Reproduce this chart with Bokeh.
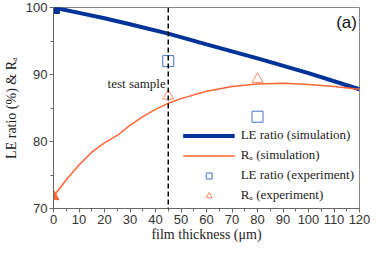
from bokeh.plotting import figure
from bokeh.models import Range1d, Span, Label, Legend, LegendItem, FixedTicker
from bokeh.embed import file_html
from bokeh.resources import INLINE

# simulation curves
sim_x = [0, 10, 20, 30, 45, 60, 80, 100, 120]
le_sim = [100, 99.2, 98.4, 97.5, 96.1, 94.5, 92.4, 90.2, 87.8]
ra_x = [0, 5, 10, 15, 20, 25, 30, 35, 40, 45, 50, 60, 70, 80, 90, 100, 110, 120]
ra_sim = [71.8, 74.3, 76.5, 78.4, 79.8, 80.9, 82.4, 83.7, 84.8, 85.7, 86.4, 87.5, 88.2, 88.6, 88.7, 88.5, 88.2, 87.8]
# experiments
exp_x = [45, 80]
le_exp = [92.0, 83.7]
ra_exp = [86.8, 89.3]
test_x = 45

p = figure(width=370, height=244, output_backend="svg", toolbar_location=None,
           x_range=Range1d(0, 120), y_range=Range1d(70, 100),
           min_border_left=40, min_border_right=11, min_border_top=7, min_border_bottom=0)
p.outline_line_color = "#888888"
p.grid.visible = False
p.background_fill_color = "white"

serif = "Liberation Serif"
sans = "Liberation Sans"

p.xaxis.ticker = FixedTicker(ticks=list(range(0, 121, 10)), minor_ticks=list(range(0, 121, 5)))
p.yaxis.ticker = FixedTicker(ticks=[70, 80, 90, 100], minor_ticks=list(range(70, 101, 5)))
for ax in (p.xaxis, p.yaxis):
    ax.axis_line_color = "#666666"
    ax.major_tick_line_color = "#666666"
    ax.minor_tick_line_color = "#666666"
    ax.major_tick_out = 4
    ax.major_tick_in = 0
    ax.minor_tick_out = 3
    ax.minor_tick_in = 0
    ax.major_label_text_font = sans
    ax.major_label_text_font_size = "13px"
    ax.major_label_text_color = "#333333"
    ax.axis_label_text_font = serif
    ax.axis_label_text_font_size = "14px"
    ax.axis_label_text_font_style = "normal"
    ax.axis_label_text_color = "#222222"
p.xaxis.axis_label = "film thickness (\u03bcm)"
p.yaxis.axis_label = "LE ratio (%) & R\u2090"
p.xaxis.major_label_standoff = 2
p.xaxis.axis_label_standoff = 0
p.yaxis.major_label_standoff = 2
p.yaxis.axis_label_standoff = 4

dash = Span(location=test_x, dimension="height", line_color="black", line_dash="5 3", line_width=1.5)
p.add_layout(dash)

r1 = p.line(sim_x, le_sim, line_color="#003399", line_width=4)
r2 = p.line(ra_x, ra_sim, line_color="#FF6633", line_width=1.5)
r3 = p.scatter(exp_x, le_exp, marker="square", size=11, fill_color=None, line_color="#4472C4", line_width=1)
r4 = p.scatter(exp_x, ra_exp, marker="triangle", size=11, fill_color=None, line_color="#FF8866", line_width=1)
p.scatter([sim_x[0]], [le_sim[0]], marker="square", size=12, fill_color="#003399", line_color="#003399")
p.scatter([ra_x[0]], [ra_sim[0]], marker="triangle", size=11, fill_color="#FF6633", line_color="#FF6633")

p.add_layout(Label(x=44, y=88.6, text="test sample", text_font=serif, text_font_size="13px",
                   text_align="right", text_baseline="middle", text_color="#222222"))
p.add_layout(Label(x=119, y=99.2, text="(a)", text_font=sans, text_font_size="17px",
                   text_align="right", text_baseline="top", text_color="#111111"))

legend = Legend(items=[
    LegendItem(label="LE ratio (simulation)", renderers=[r1]),
    LegendItem(label="R\u2090 (simulation)", renderers=[r2]),
    LegendItem(label="LE ratio (experiment)", renderers=[r3]),
    LegendItem(label="R\u2090 (experiment)", renderers=[r4]),
], location="bottom_right")
legend.border_line_color = None
legend.background_fill_alpha = 0
legend.label_text_font = serif
legend.label_text_font_size = "13px"
legend.label_text_color = "#222222"
legend.glyph_width = 52
legend.glyph_height = 15
legend.spacing = 4
legend.padding = 2
legend.margin = 5
legend.label_standoff = 6
p.add_layout(legend)

open("out.html", "w").write(file_html(p, INLINE))
